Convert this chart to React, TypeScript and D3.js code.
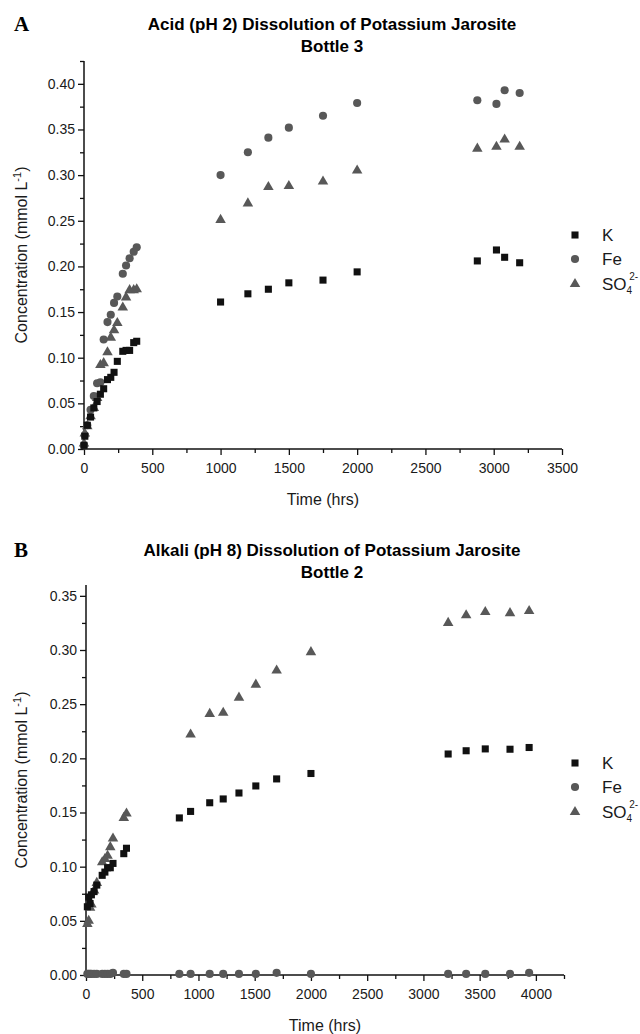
import React, { useEffect, useRef } from "react";
import * as d3 from "d3";

// Panel A - acid (pH 2), bottle 3
const acidTimes = [0, 6, 24, 48, 72, 96, 120, 144, 172, 196, 220, 244, 284, 308, 334, 364, 386,
  1000, 1200, 1350, 1500, 1750, 2000, 2880, 3020, 3080, 3190];
const acidK = [0.004, 0.014, 0.026, 0.035, 0.045, 0.052, 0.06, 0.066, 0.076, 0.0785, 0.084, 0.096, 0.107, 0.108, 0.108, 0.1165, 0.118,
  0.161, 0.17, 0.175, 0.182, 0.185, 0.194, 0.206, 0.218, 0.21, 0.204];
const acidFe = [0.004, 0.015, 0.026, 0.043, 0.058, 0.072, 0.073, 0.12, 0.139, 0.147, 0.16, 0.167, 0.192, 0.201, 0.209, 0.216, 0.221,
  0.3, 0.325, 0.341, 0.352, 0.365, 0.379, 0.382, 0.378, 0.393, 0.39];
const acidSO4 = [0.006, 0.017, 0.025, 0.036, 0.045, 0.056, 0.092, 0.094, 0.106, 0.122, 0.13, 0.138, 0.155, 0.166, 0.174, 0.174, 0.175,
  0.251, 0.269, 0.287, 0.288, 0.293, 0.305, 0.329, 0.331, 0.339, 0.331];

// Panel B - alkali (pH 8), bottle 2
const alkTimes = [12, 24, 36, 48, 72, 96, 144, 168, 192, 216, 240, 336, 360,
  830, 930, 1100, 1220, 1360, 1510, 1695, 2000, 3220, 3380, 3550, 3770, 3940];
const alkK = [0.063, 0.072, 0.066, 0.074, 0.077, 0.083, 0.092, 0.095, 0.099, 0.099, 0.103, 0.112, 0.117,
  0.145, 0.151, 0.159, 0.1625, 0.168, 0.1745, 0.181, 0.186, 0.204, 0.207, 0.2087, 0.2084, 0.21];
const alkFe = [0.001, 0.001, 0.001, 0.001, 0.001, 0.001, 0.001, 0.001, 0.001, 0.001, 0.002, 0.001, 0.001,
  0.001, 0.001, 0.001, 0.001, 0.001, 0.001, 0.002, 0.001, 0.001, 0.001, 0.001, 0.001, 0.002];
const alkSO4 = [0.047, 0.05, 0.062, 0.065, 0.078, 0.085, 0.104, 0.107, 0.11, 0.118, 0.126, 0.145, 0.149,
  null, 0.222, 0.241, 0.242, 0.256, 0.268, 0.281, 0.298, 0.325, 0.332, 0.335, 0.334, 0.336];

const acidXTicks = [0, 500, 1000, 1500, 2000, 2500, 3000, 3500];
const acidYTicks = [0, 0.05, 0.1, 0.15, 0.2, 0.25, 0.3, 0.35, 0.4];
const alkXTicks = [0, 500, 1000, 1500, 2000, 2500, 3000, 3500, 4000];
const alkYTicks = [0, 0.05, 0.1, 0.15, 0.2, 0.25, 0.3, 0.35];

const panels = [
  {
    letter: "A", title1: "Acid (pH 2) Dissolution of Potassium Jarosite", title2: "Bottle 3",
    times: acidTimes, K: acidK, Fe: acidFe, SO4: acidSO4,
    xMax: 3500, yMax: 0.425, xTicks: acidXTicks, yTicks: acidYTicks,
    x0: 84, x1: 562, yTop: 61, yBot: 449, top: 0, legendY: 235
  },
  {
    letter: "B", title1: "Alkali (pH 8) Dissolution of Potassium Jarosite", title2: "Bottle 2",
    times: alkTimes, K: alkK, Fe: alkFe, SO4: alkSO4,
    xMax: 4250, yMax: 0.36, xTicks: alkXTicks, yTicks: alkYTicks,
    x0: 86, x1: 564, yTop: 585, yBot: 975, top: 526, legendY: 763
  }
];

const black = "#111";
const grey = "#585858";
const font = "'Liberation Sans', Arial, sans-serif";
const narrow = "'Liberation Sans Narrow', 'Arial Narrow', 'Liberation Sans', sans-serif";

const App = () => {
  const ref = useRef<SVGSVGElement>(null);

  useEffect(() => {
    document.body.style.margin = "0";
    const svg = d3.select(ref.current);
    svg.selectAll("*").remove();

    const sq = d3.symbol().type(d3.symbolSquare).size(50);
    const ci = d3.symbol().type(d3.symbolCircle).size(52);
    const tr = d3.symbol().type(d3.symbolTriangle).size(48);

    panels.forEach(p => {
      const g = svg.append("g");
      const x = d3.scaleLinear().domain([0, p.xMax]).range([p.x0, p.x1]);
      const y = d3.scaleLinear().domain([0, p.yMax]).range([p.yBot, p.yTop]);

      // titles
      g.append("text").attr("x", 14).attr("y", p.top + 31)
        .attr("font-family", "'Liberation Serif', 'Times New Roman', serif")
        .attr("font-weight", "bold").attr("font-size", 21).text(p.letter);
      g.append("text").attr("x", 332).attr("y", p.top + 30).attr("text-anchor", "middle")
        .attr("font-family", narrow).attr("font-weight", "bold").attr("font-size", 17).text(p.title1);
      g.append("text").attr("x", 332).attr("y", p.top + 52).attr("text-anchor", "middle")
        .attr("font-family", narrow).attr("font-weight", "bold").attr("font-size", 17).text(p.title2);

      // axes
      const xAxis = d3.axisBottom(x).tickValues(p.xTicks).tickSize(6).tickFormat(d3.format("d"));
      const xMinor = d3.axisBottom(x).tickValues(d3.range(250, p.xMax + 1, 500)).tickSize(4).tickFormat(() => "");
      const yAxis = d3.axisLeft(y).tickValues(p.yTicks).tickSize(6).tickFormat(d3.format(".2f"));
      const yMinor = d3.axisLeft(y).tickValues(d3.range(0.025, p.yMax + 0.0001, 0.05)).tickSize(4).tickFormat(() => "");

      const styleAxis = (a: any) => {
        a.selectAll("path").attr("stroke", black).attr("stroke-width", 1.5);
        a.selectAll("line").attr("stroke", black).attr("stroke-width", 1.3);
        a.selectAll("text").attr("font-family", font).attr("font-size", 14).attr("fill", "#1a1a1a");
      };
      const gx = g.append("g").attr("transform", `translate(0,${p.yBot})`).call(xAxis);
      gx.select(".domain").attr("d", `M${p.x0},0H${p.x1}`);
      styleAxis(gx);
      gx.selectAll("text").attr("dy", "1.05em");
      const gxm = g.append("g").attr("transform", `translate(0,${p.yBot})`).call(xMinor);
      gxm.select(".domain").remove();
      styleAxis(gxm);
      const gy = g.append("g").attr("transform", `translate(${p.x0},0)`).call(yAxis);
      gy.select(".domain").attr("d", `M0,${p.yTop}V${p.yBot}`);
      styleAxis(gy);
      const gym = g.append("g").attr("transform", `translate(${p.x0},0)`).call(yMinor);
      gym.select(".domain").remove();
      styleAxis(gym);

      // axis labels
      g.append("text").attr("x", (p.x0 + p.x1) / 2).attr("y", p.yBot + 56).attr("text-anchor", "middle")
        .attr("font-family", font).attr("font-size", 16).attr("fill", "#1a1a1a").text("Time (hrs)");
      const yl = g.append("text")
        .attr("transform", `translate(27,${(p.yTop + p.yBot) / 2}) rotate(-90)`)
        .attr("text-anchor", "middle").attr("font-family", font).attr("font-size", 16).attr("fill", "#1a1a1a");
      yl.append("tspan").text("Concentration (mmol L");
      yl.append("tspan").attr("font-size", 11).attr("dy", -6).text("-1");
      yl.append("tspan").attr("dy", 6).text(")");

      // points
      const series = [
        { vals: p.SO4, sym: tr, color: grey },
        { vals: p.Fe, sym: ci, color: grey },
        { vals: p.K, sym: sq, color: black }
      ];
      series.forEach(s => {
        const pts = p.times.map((t, i) => [t, s.vals[i]]).filter(d => d[1] != null) as [number, number][];
        g.append("g").selectAll("path").data(pts).join("path")
          .attr("d", s.sym as any)
          .attr("transform", d => `translate(${x(d[0])},${y(d[1])})`)
          .attr("fill", s.color);
      });

      // legend
      const lx = 575;
      const leg = [
        { sym: sq, color: black, label: "K", dy: 0 },
        { sym: ci, color: grey, label: "Fe", dy: 24 },
        { sym: tr, color: grey, label: "SO", dy: 49 }
      ];
      leg.forEach(l => {
        g.append("path").attr("d", l.sym as any).attr("fill", l.color)
          .attr("transform", `translate(${lx},${p.legendY + l.dy})`);
        const t = g.append("text").attr("x", lx + 27).attr("y", p.legendY + l.dy + 6)
          .attr("font-family", font).attr("font-size", 17).attr("fill", "#1a1a1a").text(l.label);
        if (l.label === "SO") {
          t.append("tspan").attr("font-size", 10).attr("dy", 4).text("4");
          t.append("tspan").attr("font-size", 10).attr("dx", -3).attr("dy", -14).text("2-");
        }
      });
    });
  }, []);

  return <svg ref={ref} width={640} height={1034} style={{ display: "block", background: "#fff" }} />;
};

export default App;
